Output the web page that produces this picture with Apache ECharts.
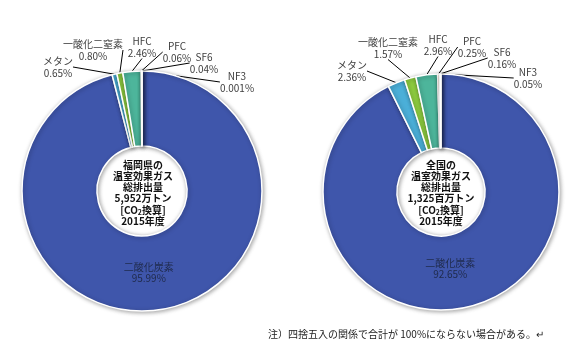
<!DOCTYPE html>
<html><head><meta charset="utf-8">
<script src="https://cdn.jsdelivr.net/npm/echarts@6/dist/echarts.min.js"></script>
<style>html,body{margin:0;padding:0;background:#fff}#c{width:576px;height:351px}</style>
</head><body><div id="c"></div>
<script>
var categories = ['二酸化炭素', 'メタン', '一酸化二窒素', 'HFC', 'PFC', 'SF6', 'NF3'];
var fukuokaValues = [95.99, 0.65, 0.80, 2.46, 0.06, 0.04, 0.001];
var nationalValues = [92.65, 2.36, 1.57, 2.96, 0.25, 0.16, 0.05];
var colors = ['#3F56AB', '#4BAFD8', '#8DCB3F', '#4DB59B', '#E9A262', '#BFBFBF', '#F4D3B4'];
var fukuokaCenterText = ['福岡県の', '温室効果ガス', '総排出量', '5,952万トン', '[CO{sub|2}換算]', '2015年度'];
var nationalCenterText = ['全国の', '温室効果ガス', '総排出量', '1,325百万トン', '[CO{sub|2}換算]', '2015年度'];
var noteText = '注）四捨五入の関係で合計が 100%にならない場合がある。↵';

// label anchor positions (px) for small slices, index = category index
var leftLabelPos = [null, [58, 67], [93, 50], [142, 47], [177, 52], [204, 63], [237, 82]];
var rightLabelPos = [null, [352, 71], [388, 48], [438, 45], [472, 47], [502, 58], [528, 78]];

var FONT = '"Noto Sans CJK JP", "Noto Sans", sans-serif';
function fmt(v) { return v < 0.01 ? v.toFixed(3) : v.toFixed(2); }

function makeSeries(values, center, radius, posArr, co2Offset) {
  return {
    type: 'pie',
    center: center,
    radius: radius,
    startAngle: 90,
    clockwise: true,
    avoidLabelOverlap: false,
    animation: false,
    itemStyle: {
      borderColor: '#fff', borderWidth: 1.5,
      shadowBlur: 4, shadowColor: 'rgba(0,0,0,0.35)', shadowOffsetX: 1, shadowOffsetY: 1
    },
    label: {
      show: true, position: 'outside', fontSize: 10, lineHeight: 11.5,
      color: '#404040', fontFamily: FONT, align: 'center',
      formatter: function (p) { return p.name + '\n' + fmt(p.value) + '%'; }
    },
    labelLine: { show: true, length: 10, length2: 0, lineStyle: { color: '#000', width: 1 } },
    labelLayout: function (p) {
      var pos = posArr[p.dataIndex];
      if (!pos) return {};
      return { x: pos[0], y: pos[1], align: 'center', verticalAlign: 'middle' };
    },
    emphasis: { disabled: true },
    data: categories.map(function (n, i) {
      var d = { name: n, value: values[i], itemStyle: { color: colors[i] } };
      if (i === 0) d.label = { position: 'inside', color: '#1f2a4a', fontSize: 10, offset: co2Offset };
      return d;
    })
  };
}

function centerGraphic(lines, x, y) {
  return {
    type: 'text', x: x, y: y, z: 100,
    style: {
      text: lines.join('\n'), fill: '#111', font: 'bold 10px ' + FONT,
      align: 'center', verticalAlign: 'middle', lineHeight: 11.3,
      rich: { sub: { fontSize: 7, fontWeight: 'bold', verticalAlign: 'bottom', lineHeight: 11.3, fill: '#111', fontFamily: FONT } }
    }
  };
}

var chart = echarts.init(document.getElementById('c'), null, { renderer: 'canvas' });
chart.setOption({
  backgroundColor: '#fff',
  series: [
    makeSeries(fukuokaValues, [142, 191], [45, 120], leftLabelPos, [-4, -3]),
    makeSeries(nationalValues, [441, 192], [44, 118], rightLabelPos, [-10, -5])
  ],
  graphic: [
    centerGraphic(fukuokaCenterText, 143, 193),
    centerGraphic(nationalCenterText, 441, 193),
    { type: 'text', left: 268, top: 329, style: { text: noteText, fill: '#222', font: '10px ' + FONT } }
  ]
});
</script></body></html>
